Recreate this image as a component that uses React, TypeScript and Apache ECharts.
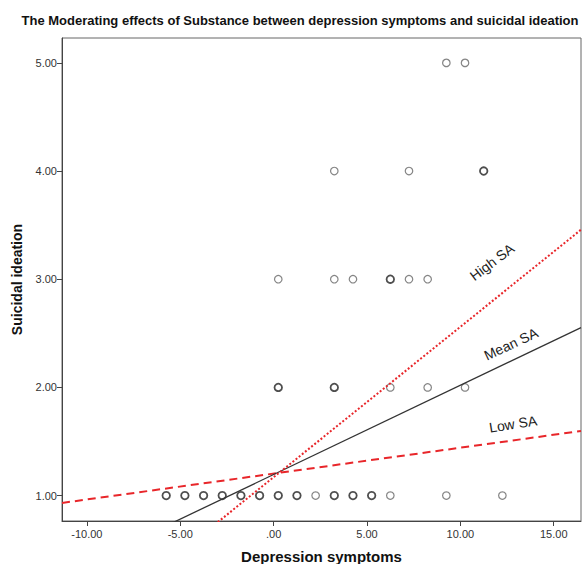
import React, { useEffect, useRef } from "react";
import * as echarts from "echarts";

const titleText = "The Moderating effects of Substance between depression symptoms and suicidal ideation";
const xTicks = [-10, -5, 0, 5, 10, 15];
const yTicks = [1, 2, 3, 4, 5];

// overlapping (darker) observations
const denseX = [-5.75, -4.75, -3.75, -2.75, -1.75, -0.75, 0.25, 1.25, 3.25, 4.25, 5.25, 0.25, 3.25, 6.25, 11.25];
const denseY = [1, 1, 1, 1, 1, 1, 1, 1, 1, 1, 1, 2, 2, 3, 4];
// single observations
const singleX = [2.25, 6.25, 9.25, 12.25, 6.25, 8.25, 10.25, 0.25, 3.25, 4.25, 7.25, 8.25, 3.25, 7.25, 9.25, 10.25];
const singleY = [1, 1, 1, 1, 2, 2, 2, 3, 3, 3, 3, 3, 4, 4, 5, 5];

// simple slopes: [x, y] end points
const lowSA = [[-11.33, 0.932], [16.46, 1.597]];
const meanSA = [[-11.33, 0.26], [16.46, 2.553]];
const highSA = [[-11.33, -0.405], [16.46, 3.458]];

const FONT = "Arial, 'Liberation Sans', sans-serif";

export default function App() {
  const ref = useRef<HTMLDivElement>(null);
  useEffect(() => {
    if (!ref.current) return;
    const chart = echarts.init(ref.current, null, { renderer: "svg" });
    const fmt = (v: number) => (v === 0 ? ".00" : v.toFixed(2));
    const pts = (xs: number[], ys: number[]) => xs.map((x, i) => [x, ys[i]]);
    chart.setOption({
      animation: false,
      backgroundColor: "#fff",
      grid: {
        left: 62,
        right: 4,
        top: 38,
        bottom: 43,
        outerBoundsMode: "none",
        containLabel: false,
        show: true,
        borderColor: "#666",
        borderWidth: 1,
      },
      xAxis: {
        type: "value",
        min: -11.33,
        max: 16.46,
        name: "Depression symptoms",
        nameLocation: "middle",
        nameGap: 28,
        nameTextStyle: { fontFamily: FONT, fontSize: 15, fontWeight: "bold", color: "#111" },
        axisLine: { show: true, onZero: false, lineStyle: { color: "#444", width: 1 } },
        axisTick: { show: true, length: 5, customValues: xTicks, lineStyle: { color: "#444" } },
        axisLabel: {
          customValues: xTicks,
          formatter: fmt,
          fontFamily: FONT,
          fontSize: 11,
          color: "#333",
          margin: 7,
        },
        splitLine: { show: false },
      },
      yAxis: {
        type: "value",
        min: 0.765,
        max: 5.23,
        name: "Suicidal ideation",
        nameLocation: "middle",
        nameGap: 38,
        nameTextStyle: { fontFamily: FONT, fontSize: 14, fontWeight: "bold", color: "#111" },
        axisLine: { show: true, onZero: false, lineStyle: { color: "#444", width: 1 } },
        axisTick: { show: true, length: 5, customValues: yTicks, lineStyle: { color: "#444" } },
        axisLabel: {
          customValues: yTicks,
          formatter: (v: number) => v.toFixed(2),
          fontFamily: FONT,
          fontSize: 11,
          color: "#333",
          margin: 5,
        },
        splitLine: { show: false },
      },
      series: [
        {
          type: "scatter",
          data: pts(singleX, singleY),
          symbol: "circle",
          symbolSize: 7.5,
          itemStyle: { color: "#fff", borderColor: "#666", borderWidth: 1.2 },
          z: 2,
        },
        {
          type: "scatter",
          data: pts(denseX, denseY),
          symbol: "circle",
          symbolSize: 7.5,
          itemStyle: { color: "#fff", borderColor: "#222", borderWidth: 1.8 },
          z: 2,
        },
        {
          type: "line",
          data: lowSA,
          symbol: "none",
          clip: true,
          lineStyle: { color: "#e8262a", width: 2, type: [8, 5] },
          z: 3,
        },
        {
          type: "line",
          data: meanSA,
          symbol: "none",
          clip: true,
          lineStyle: { color: "#333", width: 1.3, type: "solid" },
          z: 3,
        },
        {
          type: "line",
          data: highSA,
          symbol: "none",
          clip: true,
          lineStyle: { color: "#e8262a", width: 2, type: [2, 2] },
          z: 3,
        },
      ],
      graphic: [
        {
          type: "text",
          x: 300,
          y: 20,
          style: {
            text: titleText,
            font: `bold 13px ${FONT}`,
            fill: "#111",
            textAlign: "center",
            textVerticalAlign: "middle",
          },
        },
        {
          type: "text",
          x: 492,
          y: 262,
          rotation: (37 * Math.PI) / 180,
          style: {
            text: "High SA",
            font: `14px ${FONT}`,
            fill: "#222",
            textAlign: "center",
            textVerticalAlign: "middle",
          },
        },
        {
          type: "text",
          x: 511,
          y: 344,
          rotation: (25 * Math.PI) / 180,
          style: {
            text: "Mean SA",
            font: `14px ${FONT}`,
            fill: "#222",
            textAlign: "center",
            textVerticalAlign: "middle",
          },
        },
        {
          type: "text",
          x: 513,
          y: 424,
          rotation: (9 * Math.PI) / 180,
          style: {
            text: "Low SA",
            font: `14px ${FONT}`,
            fill: "#222",
            textAlign: "center",
            textVerticalAlign: "middle",
          },
        },
      ],
    });
    return () => chart.dispose();
  }, []);
  return (
    <div
      ref={ref}
      style={{ position: "fixed", left: 0, top: 0, width: 585, height: 564, background: "#fff" }}
    />
  );
}
